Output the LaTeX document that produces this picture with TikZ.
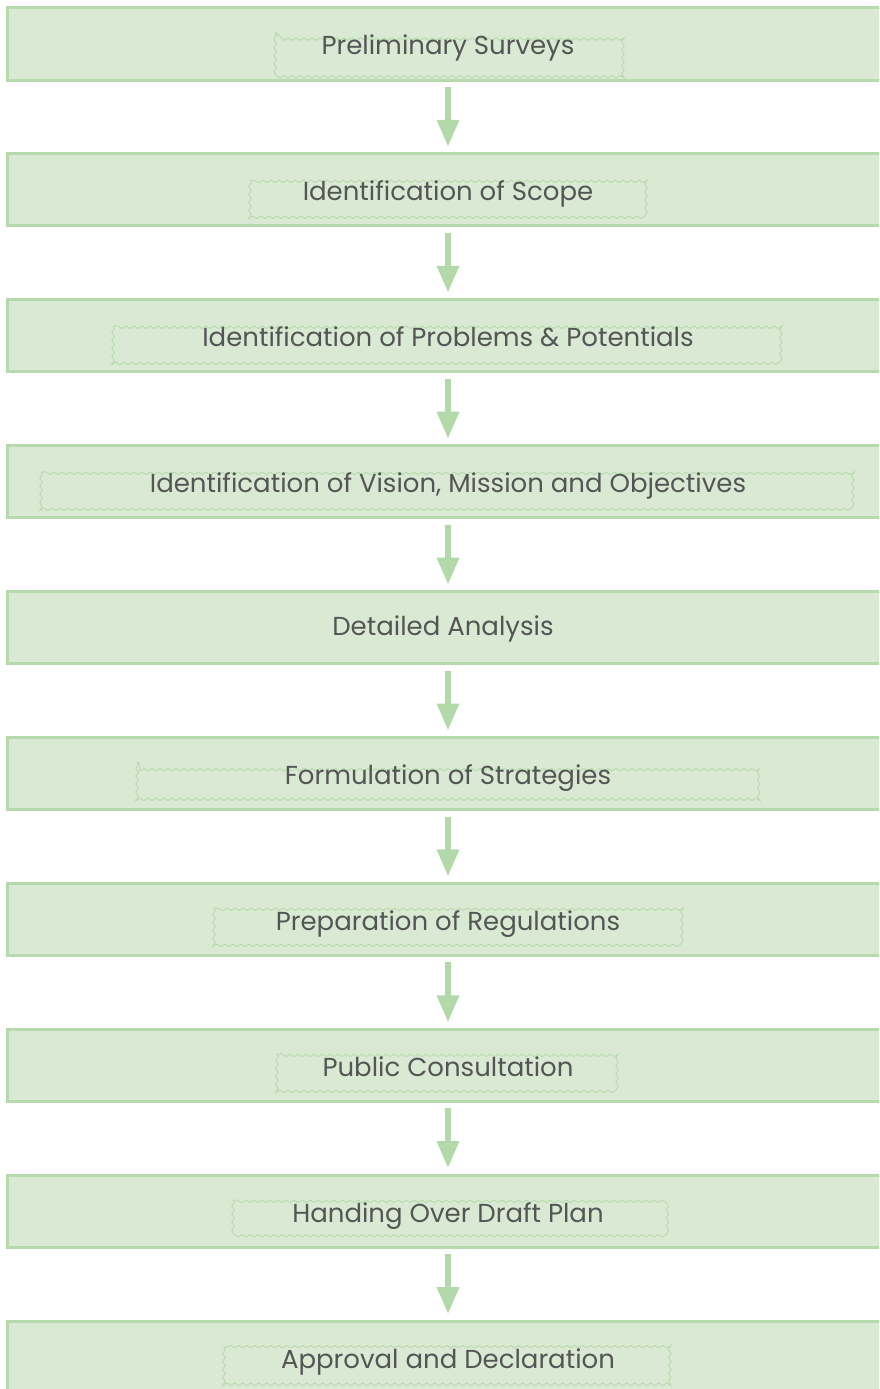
\documentclass[tikz,border=0pt]{standalone}
\usepackage{fontspec}
\setmainfont{Poppins}
\usetikzlibrary{arrows.meta,decorations.pathmorphing}
\definecolor{boxfill}{HTML}{DAE9D4}
\definecolor{boxline}{HTML}{B7D9AE}
\definecolor{arrcol}{HTML}{B3D8AA}
\definecolor{wavecol}{HTML}{B9DBB0}
\definecolor{txtcol}{HTML}{545655}
\tikzset{
  stepbox/.style={draw=boxline, line width=3pt, fill=boxfill, minimum width=881pt, minimum height=72pt, inner sep=0pt, outer sep=0pt},
  steptext/.style={text=txtcol, font=\fontsize{26}{30}\selectfont, inner sep=0pt, anchor=base},
  flowarrow/.style={draw=arrcol, line width=6pt, -{Triangle[width=21pt,length=27pt]}, shorten <=7pt, shorten >=7pt},
  wavy/.style={draw=wavecol, line width=1pt, decorate, decoration={snake, segment length=8pt, amplitude=1.2pt}}
}
\begin{document}
\begin{tikzpicture}[x=1pt,y=-1pt]
\useasboundingbox (0,0) rectangle (879,1389);
\clip (0,0) rectangle (879,1389);
\fill[white] (0,0) rectangle (879,1389);
% boxes
\node[stepbox] (b1) at (448, 44.0) {};
\node[stepbox] (b2) at (448, 189.9) {};
\node[stepbox] (b3) at (448, 335.8) {};
\node[stepbox] (b4) at (448, 481.7) {};
\node[stepbox] (b5) at (448, 627.6) {};
\node[stepbox] (b6) at (448, 773.5) {};
\node[stepbox] (b7) at (448, 919.4) {};
\node[stepbox] (b8) at (448, 1065.3) {};
\node[stepbox] (b9) at (448, 1211.2) {};
\node[stepbox] (b10) at (448, 1357.1) {};
% wavy text frames
\draw[wavy] (275, 33.0) rectangle (622, 73.0);
\draw[wavy] (250, 180.0) rectangle (647, 215.0);
\draw[wavy] (113, 326.0) rectangle (783, 361.0);
\draw[wavy] (41, 472.0) rectangle (856, 507.0);
\draw[wavy] (137, 762.0) rectangle (761, 797.0);
\draw[wavy] (214, 908.0) rectangle (683, 943.0);
\draw[wavy] (277, 1054.0) rectangle (620, 1089.0);
\draw[wavy] (233, 1200.0) rectangle (663, 1234.0);
\draw[wavy] (224, 1347.0) rectangle (673, 1384.0);
% texts
\node[steptext] (t1) at (448, 55) {Preliminary Surveys};
\node[steptext] (t2) at (448, 200.9) {Identification of Scope};
\node[steptext] (t3) at (448, 346.8) {Identification of Problems \& Potentials};
\node[steptext] (t4) at (448, 492.7) {Identification of Vision, Mission and Objectives};
\node[steptext] (t5) at (443, 635.6) {Detailed Analysis};
\node[steptext] (t6) at (448, 784.5) {Formulation of Strategies};
\node[steptext] (t7) at (448, 930.4) {Preparation of Regulations};
\node[steptext] (t8) at (448, 1076.3) {Public Consultation};
\node[steptext] (t9) at (448, 1222.2) {Handing Over Draft Plan};
\node[steptext] (t10) at (448, 1368.1) {Approval and Declaration};
% arrows
\foreach \a/\b in {1/2,2/3,3/4,4/5,5/6,6/7,7/8,8/9,9/10}{
  \draw[flowarrow] (b\a.south) -- (b\b.north);
}
\end{tikzpicture}
\end{document}
